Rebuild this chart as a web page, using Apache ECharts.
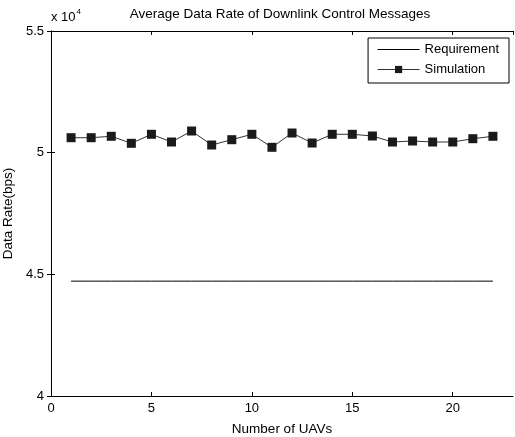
<!DOCTYPE html>
<html>
<head>
<meta charset="utf-8">
<script src="https://cdn.jsdelivr.net/npm/echarts@6/dist/echarts.min.js"></script>
<style>
  html, body { margin: 0; padding: 0; background: #fff; }
  #chart { width: 515px; height: 437px; }
</style>
</head>
<body>
<div id="chart"></div>
<script>
// Número de UAVs en el eje x
const uavs = [1, 2, 3, 4, 5, 6, 7, 8, 9, 10, 11, 12, 13, 14, 15, 16, 17, 18, 19, 20, 21, 22];
const requirement = [44720, 44720, 44720, 44720, 44720, 44720, 44720, 44720, 44720, 44720, 44720,
  44720, 44720, 44720, 44720, 44720, 44720, 44720, 44720, 44720, 44720, 44720];
const simulation = [50615, 50615, 50673, 50385, 50755, 50438, 50890, 50315, 50533, 50755, 50220,
  50808, 50397, 50755, 50755, 50685, 50438, 50480, 50438, 50438, 50574, 50673];

const FONT = 'Liberation Sans, Arial, sans-serif';
const chart = echarts.init(document.getElementById('chart'), null, { renderer: 'canvas' });

const pairs = (ys) => uavs.map((x, i) => [x, ys[i]]);

const baseX = {
  type: 'value', min: 0, max: 23, interval: 5,
  axisLine: { show: true, lineStyle: { color: '#000', width: 1 } },
  axisTick: { show: true, inside: true, length: 4, lineStyle: { color: '#000' } },
  splitLine: { show: false }
};
const baseY = {
  type: 'value', min: 40000, max: 55000, interval: 5000,
  axisLine: { show: true, lineStyle: { color: '#000', width: 1 } },
  axisTick: { show: true, inside: true, length: 4, lineStyle: { color: '#000' } },
  splitLine: { show: false }
};

const option = {
  animation: false,
  backgroundColor: '#fff',
  textStyle: { fontFamily: FONT },
  title: {
    text: 'Average Data Rate of Downlink Control Messages',
    left: 275, top: 2, textAlign: 'center',
    textStyle: { fontFamily: FONT, fontSize: 13.5, fontWeight: 'normal', color: '#000' }
  },
  graphic: [{
    type: 'text', left: 51, top: 8,
    style: {
      text: '{a|x 10}{b|4}',
      rich: {
        a: { fontFamily: FONT, fontSize: 13, fill: '#000', verticalAlign: 'bottom' },
        b: { fontFamily: FONT, fontSize: 8, fill: '#000', verticalAlign: 'top', padding: [0, 0, 8, 1] }
      }
    }
  }],
  grid: { left: 51, right: 2, top: 31, bottom: 41, containLabel: false, outerBoundsMode: 'none' },
  legend: {
    orient: 'vertical', right: 6, top: 38,
    itemWidth: 42, itemHeight: 9, itemGap: 7,
    padding: [5, 10, 7, 9],
    borderColor: '#000', borderWidth: 1, backgroundColor: '#fff',
    lineStyle: { width: 1 },
    textStyle: { fontFamily: FONT, fontSize: 13, color: '#000' },
    data: [
      { name: 'Requirement', itemStyle: { opacity: 0 } },
      { name: 'Simulation' }
    ]
  },
  xAxis: [
    Object.assign({}, baseX, {
      position: 'bottom',
      name: 'Number of UAVs', nameLocation: 'middle', nameGap: 26,
      nameTextStyle: { fontFamily: FONT, fontSize: 13.5, color: '#000' },
      axisLabel: { color: '#000', fontSize: 13, fontFamily: FONT, margin: 6, showMaxLabel: false }
    }),
    Object.assign({}, baseX, { position: 'top', axisLabel: { show: false } })
  ],
  yAxis: [
    Object.assign({}, baseY, {
      position: 'left',
      name: 'Data Rate(bps)', nameLocation: 'middle', nameGap: 27,
      nameTextStyle: { fontFamily: FONT, fontSize: 13.5, color: '#000' },
      axisLabel: {
        color: '#000', fontSize: 13, fontFamily: FONT, margin: 7,
        formatter: (v) => String(v / 10000)
      }
    }),
    Object.assign({}, baseY, { position: 'right', axisLabel: { show: false } })
  ],
  series: [
    {
      name: 'Requirement', type: 'line', data: pairs(requirement),
      symbol: 'none', color: '#000',
      lineStyle: { color: '#000', width: 1 }
    },
    {
      name: 'Simulation', type: 'line', data: pairs(simulation),
      symbol: 'rect', symbolSize: 9, color: '#1a1a1a',
      itemStyle: { color: '#1a1a1a' },
      lineStyle: { color: '#333', width: 1 }
    }
  ]
};

chart.setOption(option);
</script>
</body>
</html>
